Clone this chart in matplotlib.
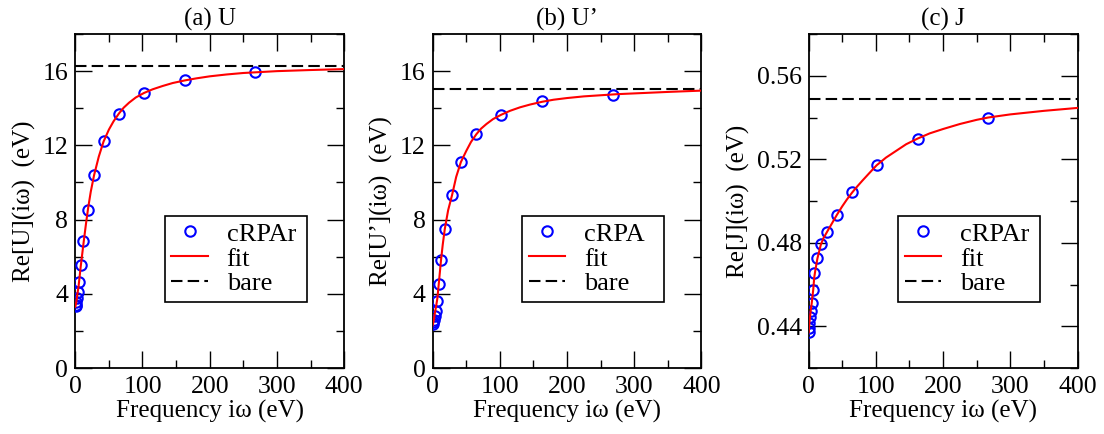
import matplotlib
matplotlib.use("Agg")
import matplotlib.pyplot as plt
from matplotlib.ticker import MultipleLocator

plt.rcParams['font.family'] = ['Liberation Serif', 'DejaVu Serif']
plt.rcParams['mathtext.fontset'] = 'stix'

# (a) U
u_freq = [0.5, 1, 1.5, 2.5, 3.5, 6, 8.5, 12, 18.5, 28, 42, 65, 102, 163, 268]
u_crpa = [3.35, 3.42, 3.55, 3.78, 4.12, 4.63, 5.53, 6.82, 8.52, 10.4, 12.22, 13.71, 14.8, 15.54, 15.93]
u_fit_x = [0, 1, 2, 3, 5, 8, 10, 13, 16, 19, 23, 28, 35, 42, 50, 57, 65, 72, 80, 90, 102, 115, 130, 145, 163,
           180, 200, 225, 250, 275, 300, 350, 400]
u_fit = [3.3, 3.45, 3.7, 3.95, 4.45, 5.45, 6.05, 6.95, 7.8, 8.6, 9.5, 10.4, 11.4, 12.2, 12.85, 13.3, 13.72,
         14.03, 14.3, 14.58, 14.82, 15.02, 15.2, 15.36, 15.5, 15.61, 15.72, 15.82, 15.9, 15.95, 16.0, 16.06, 16.11]
u_bare = 16.26

# (b) U'
up_freq = [0.5, 1, 2, 3, 5, 7, 9, 12.4, 18, 29, 42, 65, 102, 163, 268]
up_crpa = [2.38, 2.48, 2.6, 2.8, 3.07, 3.63, 4.55, 5.82, 7.48, 9.34, 11.12, 12.61, 13.65, 14.37, 14.73]
up_fit_x = [0, 1, 2, 3, 5, 7, 9, 12.4, 15, 18, 23, 29, 35, 42, 50, 57, 65, 72, 80, 90, 102, 115, 130, 145, 163,
            180, 200, 225, 250, 275, 300, 350, 400]
up_fit = [2.3, 2.45, 2.65, 2.9, 3.3, 3.75, 4.5, 5.8, 6.65, 7.48, 8.5, 9.34, 10.3, 11.1, 11.7, 12.18, 12.6,
          12.9, 13.15, 13.42, 13.65, 13.86, 14.05, 14.2, 14.35, 14.46, 14.55, 14.64, 14.7, 14.76, 14.8, 14.88, 14.95]
up_bare = 15.04

# (c) J
j_freq = [0.2, 0.5, 1, 2, 3, 4.5, 6.8, 8.3, 13, 18, 28, 42, 65, 101, 162, 267]
j_crpa = [0.4372, 0.4392, 0.4416, 0.4445, 0.4475, 0.451, 0.4576, 0.4656, 0.4728, 0.4792, 0.4854, 0.4934, 0.5042,
          0.5171, 0.5299, 0.540]
j_fit_x = [0, 1, 2, 3, 4.5, 6.8, 8.3, 10, 13, 18, 22, 28, 35, 42, 50, 57, 65, 72, 80, 90, 101, 115, 130, 145, 162,
           180, 200, 225, 250, 267, 300, 350, 400]
j_fit = [0.437, 0.4416, 0.4445, 0.4475, 0.451, 0.4576, 0.4635, 0.467, 0.4725, 0.479, 0.4822, 0.4856, 0.4895,
         0.4934, 0.4975, 0.5008, 0.5042, 0.5069, 0.5098, 0.5133, 0.5171, 0.5208, 0.524, 0.5272, 0.5299,
         0.5324, 0.5345, 0.5369, 0.5389, 0.540, 0.5415, 0.5432, 0.5446]
j_bare = 0.549

panels = [
    ("(a) U", "Re[U](iω)  (eV)", u_freq, u_crpa, u_fit_x, u_fit, u_bare, "cRPAr", (0, 18), 4, 2, None),
    ("(b) U’", "Re[U’](iω)  (eV)", up_freq, up_crpa, up_fit_x, up_fit, up_bare, "cRPA", (0, 18), 4, 2, None),
    ("(c) J", "Re[J](iω)  (eV)", j_freq, j_crpa, j_fit_x, j_fit, j_bare, "cRPAr", (0.42, 0.58), 0.04, 0.02, "%.2f"),
]
lefts = [0.0682, 0.3919, 0.7325]

fig = plt.figure(figsize=(11.04, 4.34), dpi=100)

for (title, ylab, fx, fy, lx, ly, bare, lab, ylim, maj, mnr, fmt), left in zip(panels, lefts):
    ax = fig.add_axes([left, 0.152, 0.2435, 0.7696])
    ax.plot(fx, fy, 'o', mfc='none', mec='#0000ff', mew=1.5, ms=7.5, label=lab, zorder=3)
    ax.plot(lx, ly, '-', color='#ff0000', lw=1.5, label='fit', zorder=4)
    ax.axhline(bare, color='black', lw=1.5, dashes=(5.5, 2.5), label='bare')
    ax.set_xlim(0, 400)
    ax.set_ylim(*ylim)
    ax.xaxis.set_major_locator(MultipleLocator(100))
    ax.xaxis.set_minor_locator(MultipleLocator(50))
    ax.yaxis.set_major_locator(MultipleLocator(maj))
    ax.yaxis.set_minor_locator(MultipleLocator(mnr))
    if fmt:
        ax.yaxis.set_major_formatter(plt.FormatStrFormatter(fmt))
    ax.tick_params(which='both', direction='in', top=True, right=True, width=1.0, labelsize=18.5)
    ax.tick_params(which='major', length=12)
    ax.tick_params(which='minor', length=6)
    ax.tick_params(axis='x', pad=6)
    ax.tick_params(axis='y', pad=5)
    for s in ax.spines.values():
        s.set_linewidth(1.3)
    ax.set_title(title, fontsize=18, pad=6)
    ax.set_xlabel("Frequency iω (eV)", fontsize=18, labelpad=1)
    ax.set_ylabel(ylab, fontsize=18, labelpad=5)
    leg = ax.legend(loc='lower left', bbox_to_anchor=(0.332, 0.198, 0.53, 0.266), mode='expand',
                    fontsize=19, fancybox=False, framealpha=1, edgecolor='black',
                    handlelength=1.4, handletextpad=0.7, borderpad=0.25, labelspacing=0.05,
                    borderaxespad=0)
    leg.get_frame().set_linewidth(1.2)

fig.savefig("out.png", dpi=100)
